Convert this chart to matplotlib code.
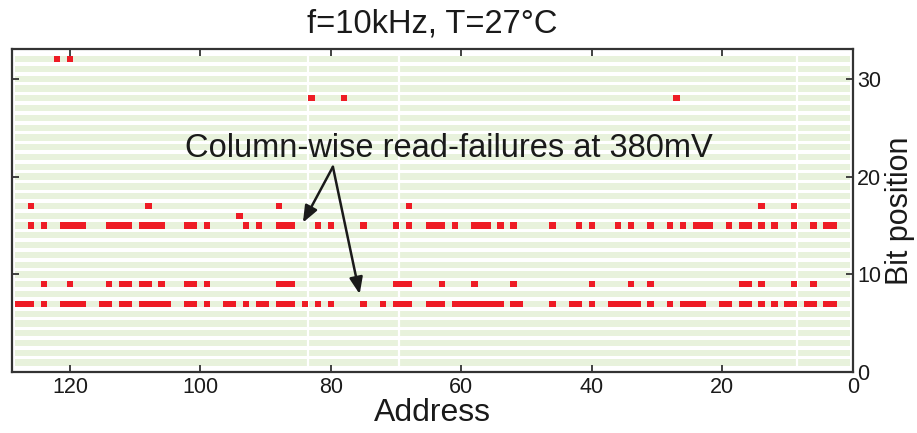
import matplotlib
matplotlib.use("Agg")
import matplotlib.pyplot as plt

plt.rcParams['font.family'] = ['Liberation Sans', 'DejaVu Sans']

# ---- data: failing addresses per bit position ----
bits = [32, 28, 17, 16, 15, 9, 7]
row32 = [122, 120]
row28 = [83, 78, 27]
row17 = [126, 108, 88, 68, 14, 9]
row16 = [94]
row15 = [126, 124, 121, 120, 119, 118, 114, 113, 112, 111, 109, 108, 107, 106,
         102, 101, 99, 93, 91, 88, 87, 86, 82, 80, 75, 70, 68, 65, 64, 63, 61,
         58, 57, 56, 54, 52, 46, 42, 40, 36, 34, 31, 28, 26, 24, 23, 22, 19,
         17, 16, 14, 12, 9, 6, 4, 3]
row9 = [124, 120, 114, 112, 111, 109, 108, 106, 102, 101, 99, 88, 87, 86, 70,
        69, 68, 63, 58, 52, 40, 34, 31, 17, 16, 14, 9, 6]
row7 = [128, 127, 126, 124, 121, 120, 119, 118, 115, 114, 112, 111, 109, 108,
        107, 106, 105, 102, 101, 99, 96, 95, 93, 91, 90, 88, 87, 86, 84, 82, 80,
        75, 72, 70, 69, 68, 65, 64, 63, 61, 60, 59, 58, 57, 56, 55, 54, 52, 51,
        46, 43, 42, 40, 37, 36, 35, 34, 33, 31, 28, 26, 25, 24, 23, 20, 19, 17,
        16, 14, 12, 10, 9, 7, 6, 4, 3]
rows = [row32, row28, row17, row16, row15, row9, row7]

n_bits = 32
n_addr = 128
x_ticks = [120, 100, 80, 60, 40, 20, 0]
y_ticks = [0, 10, 20, 30]
title = "f=10kHz, T=27°C"
annot = "Column-wise read-failures at 380mV"

GREEN = '#e8f2dc'
RED = '#ee1c25'
H = 0.64

fig = plt.figure(figsize=(9.17, 4.33), dpi=100)
ax = fig.add_axes([0.0134, 0.140, 0.9166, 0.746])

# background bands
band_rows = list(range(1, n_bits + 1))
ax.barh(band_rows, n_addr, left=0.5, height=H, color=GREEN, zorder=1)
for xv in [83.5, 69.5, 8.5]:
    ax.axvline(xv, color='white', lw=1.6, zorder=2)

# failures
for b, addrs in zip(bits, rows):
    ax.bar(addrs, H, width=1.0, bottom=b - H / 2, color=RED, zorder=3,
           linewidth=0)

ax.set_xlim(128.85, 0)
ax.set_ylim(0, 33)
ax.set_xticks(x_ticks)
ax.set_yticks(y_ticks)
ax.yaxis.tick_right()
ax.yaxis.set_label_position('right')
ax.tick_params(axis='both', direction='in', length=5, width=1.3,
               labelsize=15.5, colors='#333333', labelcolor='#1a1a1a',
               top=True, bottom=True, left=True, right=True, pad=3)
for s in ax.spines.values():
    s.set_color('#333333')
    s.set_linewidth(1.6)

ax.set_xlabel("Address", fontsize=23, color='#1a1a1a', labelpad=0)
ax.set_ylabel("Bit position", fontsize=22, color='#1a1a1a', labelpad=3)
ax.set_title(title, fontsize=23.5, color='#1a1a1a', pad=12)

ax.text(61.9, 22.9, annot, fontsize=23.5, color='#1a1a1a', ha='center',
        va='center', zorder=5)
for tip in [(84.3, 15.3), (75.6, 8.0)]:
    ax.annotate("", xy=tip, xytext=(79.7, 21.0),
                arrowprops=dict(arrowstyle='-|>,head_length=1.0,head_width=0.4',
                                color='#1a1a1a', lw=1.8, shrinkA=0, shrinkB=0),
                zorder=5)

fig.savefig("out.png", dpi=100)
